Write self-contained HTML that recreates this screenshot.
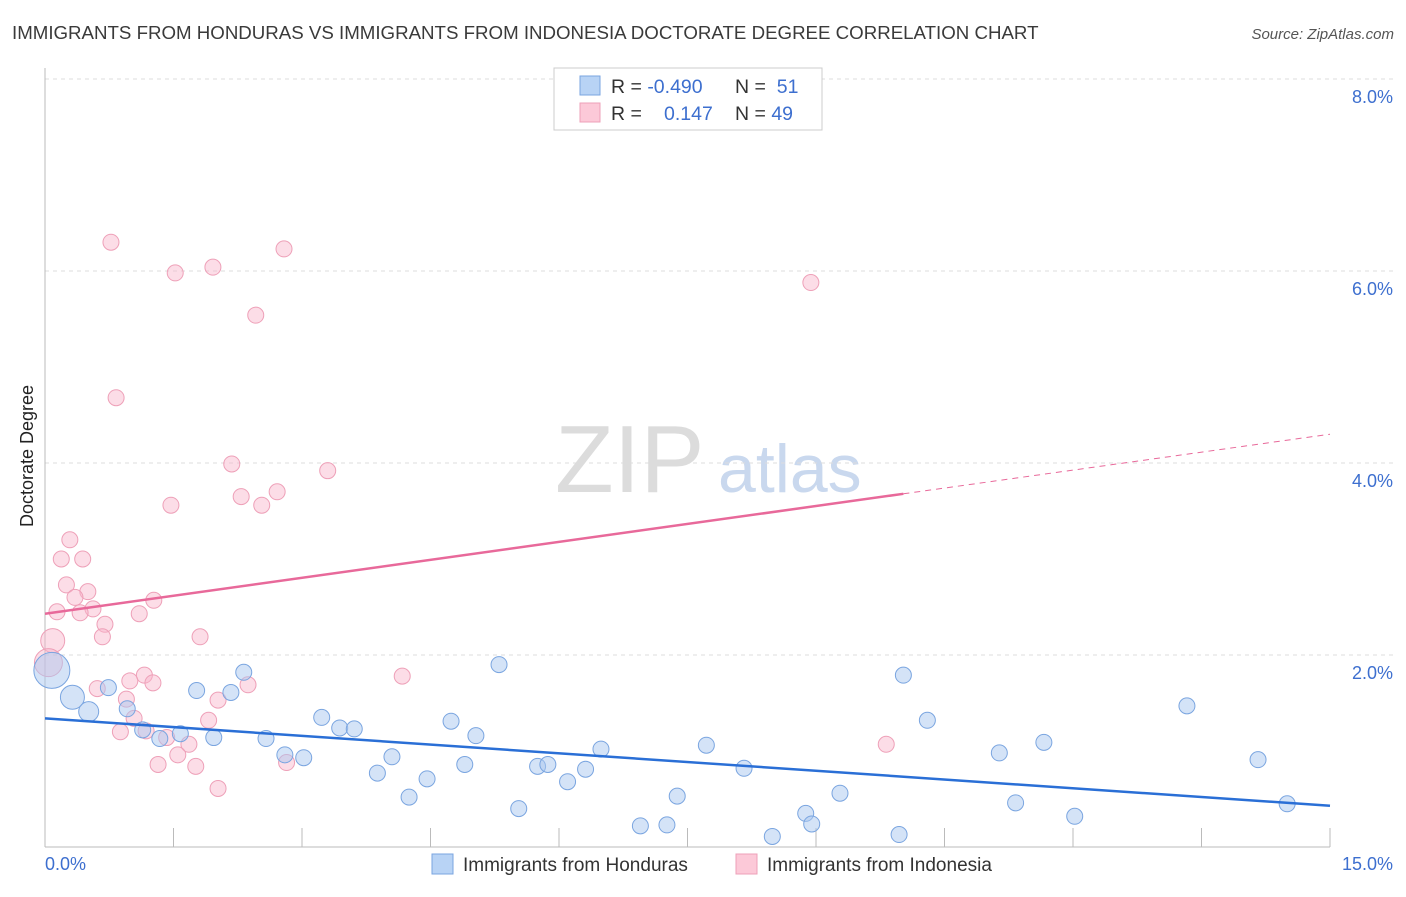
<!DOCTYPE html>
<html><head><meta charset="utf-8"><style>
body{margin:0;background:#fff;font-family:"Liberation Sans",sans-serif;}
svg text{font-family:"Liberation Sans",sans-serif;}
</style></head><body>
<svg id="chart" width="1406" height="892">
<text x="12" y="39" font-size="18.7" fill="#3a3a3a">IMMIGRANTS FROM HONDURAS VS IMMIGRANTS FROM INDONESIA DOCTORATE DEGREE CORRELATION CHART</text>
<text x="1394" y="39" font-size="15" fill="#555" font-style="italic" text-anchor="end">Source: ZipAtlas.com</text>
<text x="555" y="492" font-size="96" fill="#dcdcdc" font-family="Liberation Serif">ZIP</text>
<text x="718" y="492" font-size="68" fill="#c9d8ee">atlas</text>
<g id="grid"></g><g id="axes"></g><g id="marks"></g>
<text transform="translate(33,456) rotate(-90)" font-size="18" fill="#222" text-anchor="middle">Doctorate Degree</text>
<text x="45" y="870" font-size="18" fill="#3d6fcf">0.0%</text>
<text x="1393" y="870" font-size="18" fill="#3d6fcf" text-anchor="end">15.0%</text>
<g>
<rect x="554" y="68" width="268" height="62" fill="#fff" stroke="#ccc"/>
<rect x="580" y="76" width="20" height="19" fill="#b8d3f5" stroke="#7aa5e0"/>
<rect x="580" y="103" width="20" height="19" fill="#fcc9d8" stroke="#eea0b8"/>
<text x="611" y="93" font-size="19.5" fill="#333">R = <tspan fill="#3d6fcf">-0.490</tspan></text>
<text x="735" y="93" font-size="19.5" fill="#333">N = <tspan fill="#3d6fcf">&#160;51</tspan></text>
<text x="611" y="120" font-size="19.5" fill="#333">R = <tspan fill="#3d6fcf" x="664">0.147</tspan></text>
<text x="735" y="120" font-size="19.5" fill="#333">N = <tspan fill="#3d6fcf">49</tspan></text>
</g>
<g>
<rect x="432" y="854" width="21" height="20" fill="#b8d3f5" stroke="#7aa5e0"/>
<text x="463" y="871" font-size="19" fill="#333">Immigrants from Honduras</text>
<rect x="736" y="854" width="21" height="20" fill="#fcc9d8" stroke="#eea0b8"/>
<text x="767" y="871" font-size="19" fill="#333">Immigrants from Indonesia</text>
</g>
</svg>
<script>
const yTicks=[2,4,6,8];
const yTickLabels=["2.0%","4.0%","6.0%","8.0%"];
const xTicks=[0,1.5,3,4.5,6,7.5,9,10.5,12,13.5,15];
const blueX=[0.08,0.32,0.51,0.74,0.96,1.14,1.34,1.58,1.77,1.97,2.17,2.32,2.58,2.80,3.02,3.23,3.44,3.61,3.88,4.05,4.25,4.46,4.74,4.90,5.03,5.30,5.53,5.75,5.87,6.10,6.31,6.49,6.95,7.26,7.38,7.72,8.16,8.49,8.88,8.95,9.28,9.97,10.02,10.30,11.14,11.33,11.66,12.02,13.33,14.16,14.50];
const blueY=[1.84,1.56,1.41,1.66,1.44,1.22,1.13,1.18,1.63,1.14,1.61,1.82,1.13,0.96,0.93,1.35,1.24,1.23,0.77,0.94,0.52,0.71,1.31,0.86,1.16,1.90,0.40,0.84,0.86,0.68,0.81,1.02,0.22,0.23,0.53,1.06,0.82,0.11,0.35,0.24,0.56,0.13,1.79,1.32,0.98,0.46,1.09,0.32,1.47,0.91,0.45];
const blueR={0:18,1:12,2:10};
const pinkX=[0.77,1.52,1.96,2.79,2.46,0.83,2.18,3.30,1.47,2.29,2.53,2.71,0.29,0.19,0.44,0.25,0.50,0.35,0.56,0.14,0.41,1.10,1.27,0.70,0.67,0.09,1.81,0.04,1.16,1.26,0.99,0.61,2.37,4.17,2.02,0.95,1.04,1.18,0.88,1.91,1.42,1.68,1.55,1.32,1.76,2.82,2.02,9.82,8.94];
const pinkY=[6.30,5.98,6.04,6.23,5.54,4.68,3.99,3.92,3.56,3.65,3.56,3.70,3.20,3.00,3.00,2.73,2.66,2.60,2.48,2.45,2.44,2.43,2.57,2.32,2.19,2.15,2.19,1.92,1.79,1.71,1.73,1.65,1.69,1.78,1.53,1.54,1.34,1.21,1.20,1.32,1.14,1.07,0.96,0.86,0.84,0.88,0.61,1.07,5.88];
const pinkR={25:12,27:14};
const blueTrend=[1.34,0.43];
const pinkTrend=[2.43,4.30];
const pinkSolidEnd=10.02;
const X=v=>45+v*(1285/15), Y=v=>847-v*96;
const NS="http://www.w3.org/2000/svg";
function mk(tag,attrs,parent){const e=document.createElementNS(NS,tag);for(const k in attrs)e.setAttribute(k,attrs[k]);document.getElementById(parent).appendChild(e);return e;}
yTicks.forEach((t,i)=>{
 const l=mk('line',{x1:45,x2:1393,y1:Y(t),y2:Y(t),stroke:'#ddd','stroke-dasharray':'4,4'},'grid');
 
 
 const tx=mk('text',{x:1393,y:Y(t)+24,'font-size':18,fill:'#3d6fcf','text-anchor':'end'},'grid');
 tx.textContent=yTickLabels[i];
 
 
});
const ax=mk('line',{x1:45,x2:45,y1:68,y2:847,stroke:'#bbb'},'axes');


const bx=mk('line',{x1:45,x2:1330,y1:847,y2:847,stroke:'#bbb'},'axes');


xTicks.forEach(t=>{
 const l=mk('line',{x1:X(t),x2:X(t),y1:828,y2:847,stroke:'#bbb','stroke-width':1},'axes');
 
 
});
pinkX.forEach((x,i)=>{
 const c=mk('circle',{cx:X(x),cy:Y(pinkY[i]),r:pinkR[i]||8,fill:'rgba(248,180,202,0.45)',stroke:'#eea0b8','stroke-width':1},'marks');
 
 
});
blueX.forEach((x,i)=>{
 const c=mk('circle',{cx:X(x),cy:Y(blueY[i]),r:blueR[i]||8,fill:'rgba(170,200,240,0.5)',stroke:'#7aa5e0','stroke-width':1},'marks');
 
 
});
const bt=mk('line',{x1:X(0),y1:Y(blueTrend[0]),x2:X(15),y2:Y(blueTrend[1]),stroke:'#2a6fd6','stroke-width':2.5},'marks');


const py=x=>pinkTrend[0]+(pinkTrend[1]-pinkTrend[0])*x/15;
const pt=mk('line',{x1:X(0),y1:Y(py(0)),x2:X(pinkSolidEnd),y2:Y(py(pinkSolidEnd)),stroke:'#e8699a','stroke-width':2.5},'marks');


const pd=mk('line',{x1:X(pinkSolidEnd),y1:Y(py(pinkSolidEnd)),x2:X(15),y2:Y(py(15)),stroke:'#e8699a','stroke-width':1,'stroke-dasharray':'6,5'},'marks');


</script>
</body></html>
